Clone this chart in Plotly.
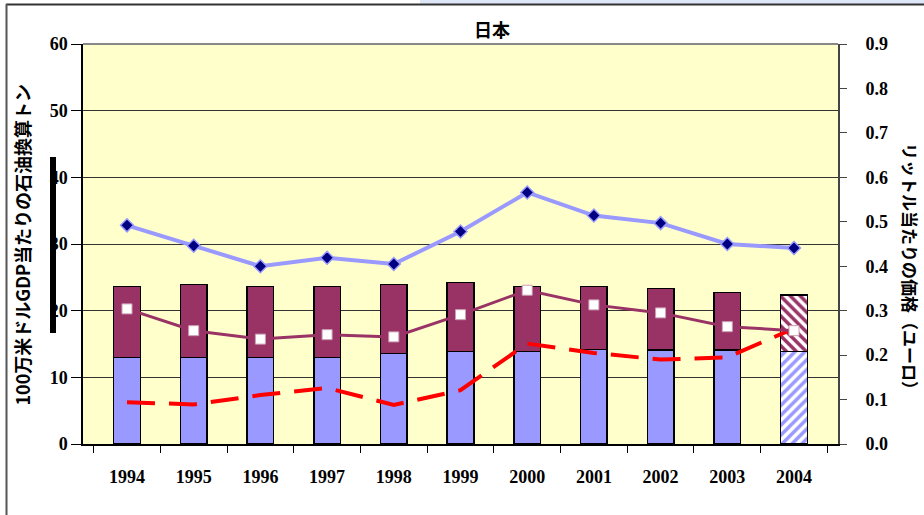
import plotly.graph_objects as go

years = ["1994", "1995", "1996", "1997", "1998", "1999", "2000", "2001", "2002", "2003", "2004"]
bar_lower = [13.0, 13.0, 13.0, 13.0, 13.6, 13.85, 13.85, 14.2, 14.1, 14.1, 13.85]
bar_total = [23.6, 23.9, 23.6, 23.6, 23.9, 24.25, 23.6, 23.6, 23.35, 22.7, 22.35]
bar_upper = [round(t - l, 2) for t, l in zip(bar_total, bar_lower)]
price_blue = [0.492, 0.446, 0.400, 0.419, 0.405, 0.478, 0.566, 0.514, 0.497, 0.450, 0.441]
price_maroon = [0.304, 0.255, 0.236, 0.246, 0.241, 0.291, 0.346, 0.313, 0.295, 0.264, 0.255]
price_red = [0.094, 0.089, 0.110, 0.126, 0.088, 0.121, 0.226, 0.205, 0.190, 0.195, 0.260]
patterns = ["", "", "", "", "", "", "", "", "", "", "x"]

W, H = 924, 515
L, R, T, B = 83, 838, 44, 444


def px(x):
    return (x - L) / (R - L)


def py(y):
    return (B - y) / (B - T)


fig = go.Figure()
fig.add_trace(go.Bar(
    x=years, y=bar_lower, width=0.4,
    marker=dict(color="#9999FF", line=dict(color="black", width=1.5),
                pattern=dict(shape=["/" if p else "" for p in patterns],
                             fgcolor="#9999FF", bgcolor="white", size=7, solidity=0.5,
                             fillmode="replace")),
    showlegend=False))
fig.add_trace(go.Bar(
    x=years, y=bar_upper, width=0.4,
    marker=dict(color="#993366", line=dict(color="black", width=1.5),
                pattern=dict(shape=["\\" if p else "" for p in patterns],
                             fgcolor="#993366", bgcolor="white", size=7, solidity=0.5,
                             fillmode="replace")),
    showlegend=False))
fig.add_trace(go.Scatter(
    x=years, y=price_red, yaxis="y2", mode="lines",
    line=dict(color="#FF0000", width=4, dash="28px,14px"), showlegend=False))
fig.add_trace(go.Scatter(
    x=years, y=price_maroon, yaxis="y2", mode="lines+markers",
    line=dict(color="#993366", width=3),
    marker=dict(symbol="square", size=10, color="white", line=dict(color="#c9a0b4", width=1)),
    showlegend=False))
fig.add_trace(go.Scatter(
    x=years, y=price_blue, yaxis="y2", mode="lines+markers",
    line=dict(color="#9999FF", width=4),
    marker=dict(symbol="diamond", size=10, color="#000080", line=dict(color="#9999FF", width=1.5)),
    showlegend=False))

tickfont = dict(family="Liberation Serif", size=18, color="black", weight="bold")

fig.update_layout(
    width=W, height=H,
    margin=dict(l=L, r=W - R, t=T, b=H - B, pad=0, autoexpand=False),
    paper_bgcolor="white", plot_bgcolor="#FFFFCC",
    barmode="stack", bargap=0.6,
    xaxis=dict(type="category", showline=True, linecolor="black", linewidth=2,
               ticks="outside", tickson="boundaries", ticklen=7, tickcolor="black",
               tickfont=tickfont, ticklabelstandoff=15, showgrid=False),
    yaxis=dict(range=[0, 60], dtick=10, showline=True, linecolor="black", linewidth=1.5,
               ticks="outside", ticklen=10, tickcolor="black", tickfont=tickfont,
               showgrid=True, gridcolor="#333333", gridwidth=1, zeroline=False),
    yaxis2=dict(range=[0, 0.9], dtick=0.1, tickformat=".1f", overlaying="y", side="right",
                showline=True, linecolor="#444444", linewidth=2, ticks="outside", ticklen=7,
                tickcolor="#444444", tickfont=tickfont, ticklabelstandoff=15,
                showgrid=False, zeroline=False),
    font=dict(family="Noto Sans CJK JP"),
)

fig.add_annotation(text="<b>日本</b>", xref="paper", yref="paper", x=px(492), y=py(29),
                   showarrow=False, font=dict(family="Noto Sans CJK JP", size=18, color="black"),
                   xanchor="center", yanchor="middle")
fig.add_annotation(text="<b>100万米ドルGDP当たりの石油換算トン</b>", xref="paper", yref="paper",
                   x=px(21.5), y=py(245), textangle=-90, showarrow=False,
                   font=dict(family="Noto Sans CJK JP", size=18, color="black"),
                   xanchor="center", yanchor="middle")
fig.add_annotation(text="<b>リットル当たりの価格（ユーロ）</b>", xref="paper", yref="paper",
                   x=px(911), y=py(270), textangle=90, showarrow=False,
                   font=dict(family="Noto Sans CJK JP", size=17, color="black"),
                   xanchor="center", yanchor="middle")

# top plot border (grey) and decorative frame
fig.add_shape(type="line", xref="paper", yref="paper", x0=0, x1=1, y0=1, y1=1,
              line=dict(color="#888888", width=2))
fig.add_shape(type="rect", xref="paper", yref="paper", x0=px(420), x1=px(924), y0=py(0), y1=py(4),
              fillcolor="#DCE6F7", line=dict(width=0), layer="above")
fig.add_shape(type="line", xref="paper", yref="paper", x0=px(6), x1=px(924), y0=py(4.5), y1=py(4.5),
              line=dict(color="#333333", width=2))
fig.add_shape(type="line", xref="paper", yref="paper", x0=px(6.5), x1=px(6.5), y0=py(4), y1=py(515),
              line=dict(color="#555555", width=2))
fig.add_shape(type="rect", xref="paper", yref="paper", x0=px(50), x1=px(56), y0=py(333), y1=py(157),
              fillcolor="black", line=dict(width=0), layer="above")

fig.write_html("out.html", config={"displayModeBar": False},
               post_script="document.body.style.margin='0';document.body.style.padding='0';"
                           "window.dispatchEvent(new Event('resize'));")
